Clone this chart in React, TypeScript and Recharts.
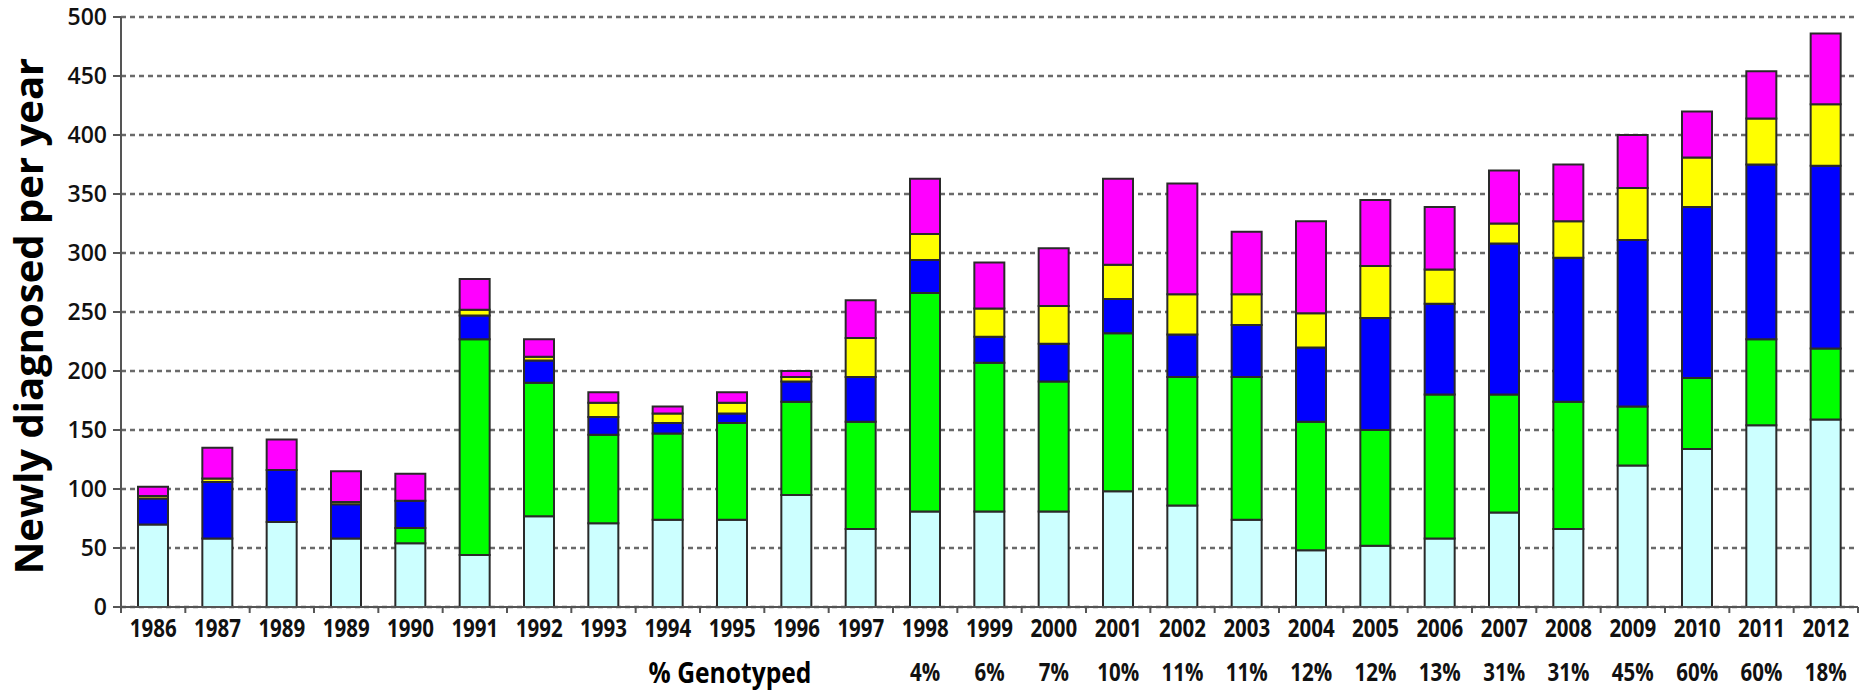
import React from "react";
import { BarChart, Bar, XAxis, YAxis, CartesianGrid } from "recharts";

const years = [
  "1986", "1987", "1989", "1989", "1990", "1991", "1992", "1993", "1994",
  "1995", "1996", "1997", "1998", "1999", "2000", "2001", "2002", "2003",
  "2004", "2005", "2006", "2007", "2008", "2009", "2010", "2011", "2012",
];

const genotyped = [
  "", "", "", "", "", "", "", "", "", "", "", "",
  "4%", "6%", "7%", "10%", "11%", "11%", "12%", "12%", "13%", "31%", "31%", "45%", "60%", "60%", "18%",
];

const cyanVals = [70, 58, 72, 58, 54, 44, 77, 71, 74, 74, 95, 66, 81, 81, 81, 98, 86, 74, 48, 52, 58, 80, 66, 120, 134, 154, 159];
const greenVals = [0, 0, 0, 0, 13, 183, 113, 75, 73, 82, 79, 91, 185, 126, 110, 134, 109, 121, 109, 98, 122, 100, 108, 50, 60, 73, 60];
const blueVals = [22, 48, 44, 29, 23, 20, 19, 15, 9, 8, 17, 38, 28, 22, 32, 29, 36, 44, 63, 95, 77, 128, 122, 141, 145, 148, 155];
const yellowVals = [2, 3, 0, 2, 0, 5, 3, 12, 8, 9, 4, 33, 22, 24, 32, 29, 34, 26, 29, 44, 29, 17, 31, 44, 42, 39, 52];
const magentaVals = [8, 26, 26, 26, 23, 26, 15, 9, 6, 9, 5, 32, 47, 39, 49, 73, 94, 53, 78, 56, 53, 45, 48, 45, 39, 40, 60];

const yTicks = [0, 50, 100, 150, 200, 250, 300, 350, 400, 450, 500];

const series = [
  { key: "cyan", color: "#ccffff" },
  { key: "green", color: "#00ff00" },
  { key: "blue", color: "#0000ff" },
  { key: "yellow", color: "#ffff00" },
  { key: "magenta", color: "#ff00ff" },
];

const data = years.map((year, i) => ({
  year,
  cyan: cyanVals[i],
  green: greenVals[i],
  blue: blueVals[i],
  yellow: yellowVals[i],
  magenta: magentaVals[i],
}));

const W = 1874;
const H = 692;
const MARGIN = { top: 17, right: 16, left: 0, bottom: 0 };
const Y_AXIS_W = 121;
const PLOT_W = W - MARGIN.left - MARGIN.right - Y_AXIS_W;

const labelFont = "'Open Sans', sans-serif";

// condensed bold label, roughly like the Calibri used in the original
function Condensed({ x, y, size, children }: any) {
  return (
    <text
      transform={`translate(${x},${y}) scale(0.82,1)`}
      textAnchor="middle"
      dominantBaseline="central"
      fontFamily={labelFont}
      fontWeight={700}
      fontSize={size}
      fill="#111"
    >
      {children}
    </text>
  );
}

function YearTick(props: any) {
  const { x, y, payload, index } = props;
  const band = PLOT_W / years.length;
  const pct = genotyped[index];
  return (
    <g>
      <line x1={x - band / 2} x2={x - band / 2} y1={y} y2={y + 6} stroke="#555" strokeWidth={2} />
      {index === years.length - 1 && (
        <line x1={x + band / 2} x2={x + band / 2} y1={y} y2={y + 6} stroke="#555" strokeWidth={2} />
      )}
      <Condensed x={x} y={y + 21} size={25}>
        {payload.value}
      </Condensed>
      {pct && (
        <Condensed x={x} y={y + 65} size={25}>
          {pct}
        </Condensed>
      )}
    </g>
  );
}

export default function App() {
  return (
    <div style={{ position: "absolute", left: 0, top: 0, width: W, height: H, background: "#fff" }}>
      <BarChart width={W} height={H} data={data} margin={MARGIN} barSize={30}>
        <CartesianGrid
          vertical={false}
          stroke="#6a6a6a"
          strokeWidth={2.5}
          strokeDasharray="5 4"
        />
        <XAxis
          dataKey="year"
          height={H - 607 - MARGIN.bottom}
          tickSize={0}
          tickMargin={0}
          tickLine={false}
          axisLine={{ stroke: "#555", strokeWidth: 2 }}
          tick={<YearTick />}
          interval={0}
        />
        <YAxis
          width={Y_AXIS_W}
          domain={[0, 500]}
          ticks={yTicks}
          interval={0}
          tickSize={8}
          tickMargin={6}
          axisLine={{ stroke: "#555", strokeWidth: 2 }}
          tickLine={{ stroke: "#555", strokeWidth: 2 }}
          tick={{ fill: "#111", fontSize: 23, fontWeight: 600, fontFamily: "'Open Sans', sans-serif" }}
        />
        {series.map((s) => (
          <Bar
            key={s.key}
            dataKey={s.key}
            stackId="a"
            fill={s.color}
            stroke="#2a2a2a"
            strokeWidth={2}
            isAnimationActive={false}
          />
        ))}
      </BarChart>
      <div
        style={{
          position: "absolute",
          left: 28,
          top: 316,
          transform: "translate(-50%, -50%) rotate(-90deg)",
          whiteSpace: "nowrap",
          fontFamily: "'Open Sans', sans-serif",
          fontWeight: 700,
          fontSize: 40,
          color: "#000",
          lineHeight: 1,
        }}
      >
        Newly diagnosed per year
      </div>
      <div
        style={{
          position: "absolute",
          left: 730,
          top: 672,
          transform: "translate(-50%, -50%) scale(0.88, 1)",
          whiteSpace: "nowrap",
          fontFamily: "'Open Sans', sans-serif",
          fontWeight: 700,
          fontSize: 28,
          color: "#000",
          lineHeight: 1,
        }}
      >
        % Genotyped
      </div>
    </div>
  );
}
